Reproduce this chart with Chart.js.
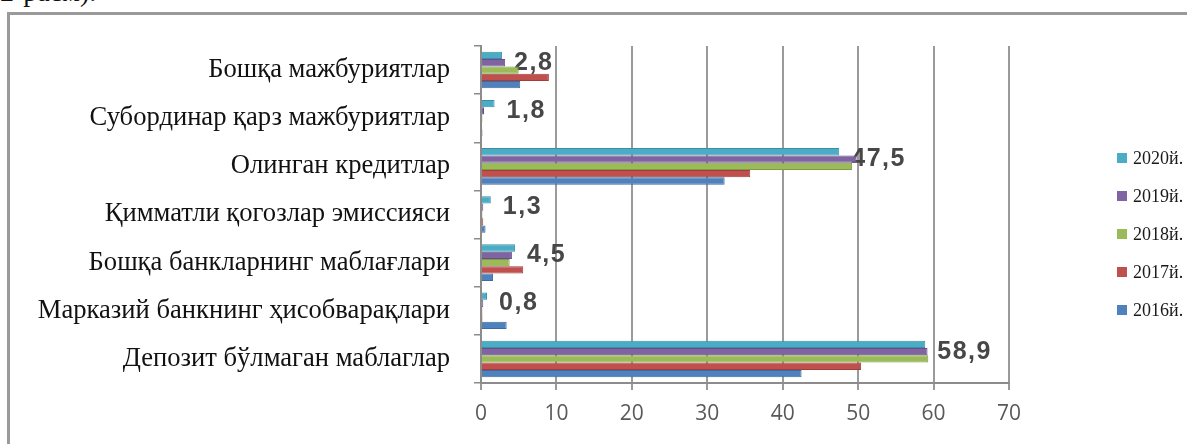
<!DOCTYPE html>
<html>
<head>
<meta charset="utf-8">
<script src="https://cdn.jsdelivr.net/npm/chart.js@4"></script>
<style>
  html, body { margin: 0; padding: 0; background: #ffffff; }
  #wrap { position: relative; width: 1187px; height: 444px; overflow: hidden; background: #ffffff; }
  #frame { position: absolute; left: 7px; top: 12px; right: -10px; bottom: -10px;
           border-left: 3px solid #9a9a9a; border-top: 3px solid #9a9a9a; pointer-events: none; }
  #caption { position: absolute; left: 0px; top: -24px; font: 28px "Liberation Serif", serif; color: #111; white-space: nowrap; }
  canvas { position: absolute; left: 0; top: 0; }
</style>
</head>
<body>
<div id="wrap">
  <div id="caption">2-расм).</div>
  <canvas id="c" width="1187" height="444"></canvas>
  <div id="frame"></div>
</div>
<script>
// Liability categories, listed top to bottom
const categories = [
  'Бошқа мажбуриятлар',
  'Субординар қарз мажбуриятлар',
  'Олинган кредитлар',
  'Қимматли қогозлар эмиссияси',
  'Бошқа банкларнинг маблағлари',
  'Марказий банкнинг ҳисобварақлари',
  'Депозит бўлмаган маблаглар'
];

// Years, in the order they are stacked inside each group
const years = ['2020й.', '2019й.', '2018й.', '2017й.', '2016й.'];

// Shares by year, %
const v2020 = [2.8, 1.8, 47.5, 1.3, 4.5, 0.8, 58.9];
const v2019 = [3.2, 0.4, 49.8, 0.3, 4.1, 0.3, 59.2];
const v2018 = [5.0, 0.2, 49.2, 0.2, 3.8, 0.2, 59.3];
const v2017 = [9.0, 0.1, 35.7, 0.3, 5.6, 0.2, 50.4];
const v2016 = [5.2, 0.2, 32.3, 0.6, 1.6, 3.4, 42.5];

// Value axis ticks
const xTicks = [0, 10, 20, 30, 40, 50, 60, 70];

const seriesValues = [v2020, v2019, v2018, v2017, v2016];
const fills   = ['#4bacc6', '#8064a2', '#9bbb59', '#c0504d', '#4f81bd'];
const borders = ['#3a8ea6', '#66508a', '#7f9c45', '#a03e3b', '#3d6aa0'];

// Labels with the 2020 values, placed just past the 2020 bar
const valueLabels = {
  id: 'valueLabels',
  beforeDatasetsDraw(chart) {
    const ctx = chart.ctx;
    const top = chart.getDatasetMeta(0);
    const second = chart.getDatasetMeta(1);
    ctx.save();
    ctx.font = 'bold 25px "Liberation Sans", sans-serif';
    ctx.letterSpacing = '1.5px';
    ctx.fillStyle = '#474747';
    ctx.textAlign = 'left';
    ctx.textBaseline = 'middle';
    top.data.forEach((bar, i) => {
      const txt = String(v2020[i]).replace('.', ',');
      ctx.fillText(txt, bar.x + 12, second.data[i].y);
    });
    ctx.restore();
  }
};

// Year legend on the right side
const sideLegend = {
  id: 'sideLegend',
  afterDraw(chart) {
    const ctx = chart.ctx;
    const x0 = chart.chartArea.right + 108;
    const y0 = 158, step = 38;
    ctx.save();
    ctx.font = '18px "Liberation Serif", serif';
    ctx.textBaseline = 'middle';
    ctx.textAlign = 'left';
    years.forEach((y, i) => {
      const cy = y0 + i * step;
      ctx.fillStyle = fills[i];
      ctx.fillRect(x0, cy - 5, 10, 10);
      ctx.fillStyle = '#1a1a1a';
      ctx.fillText(y, x0 + 16, cy + 1);
    });
    ctx.restore();
  }
};

new Chart(document.getElementById('c'), {
  type: 'bar',
  data: {
    labels: categories,
    datasets: years.map((y, i) => ({
      label: y,
      data: seriesValues[i],
      backgroundColor: fills[i],
      borderColor: borders[i],
      borderWidth: 1,
      categoryPercentage: 0.76,
      barPercentage: 1.0
    }))
  },
  options: {
    indexAxis: 'y',
    responsive: false,
    devicePixelRatio: 1,
    animation: false,
    layout: { padding: { top: 46, right: 178, bottom: 0, left: 0 } },
    plugins: { legend: { display: false }, tooltip: { enabled: false } },
    scales: {
      x: {
        min: 0, max: 70,
        afterBuildTicks(scale) { scale.ticks = xTicks.map(v => ({ value: v })); },
        afterFit(scale) { scale.height = 61; },
        grid: { color: '#9a9a9a', lineWidth: 2, tickLength: 7 },
        border: { color: '#8c8c8c', width: 2 },
        ticks: { color: '#595959', padding: 11, font: { family: '"Open Sans", sans-serif', size: 21 } }
      },
      y: {
        afterFit(scale) { scale.width = 481; },
        grid: { drawOnChartArea: false, tickLength: 7, color: '#8c8c8c', lineWidth: 1.5 },
        border: { color: '#8c8c8c', width: 2 },
        ticks: { color: '#111111', padding: 24, font: { family: '"Liberation Serif", serif', size: 26.6 } }
      }
    }
  },
  plugins: [valueLabels, sideLegend]
});
</script>
</body>
</html>
